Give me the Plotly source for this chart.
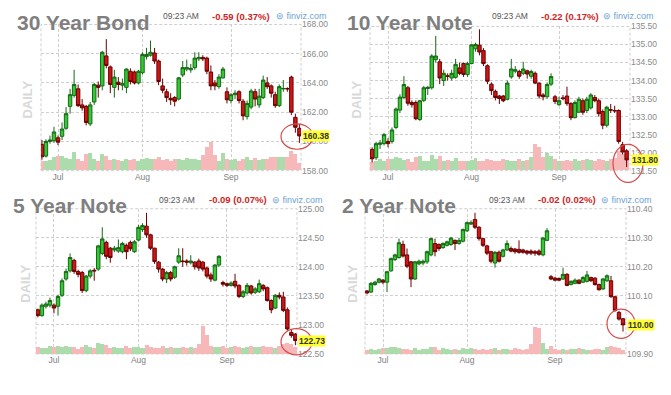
import plotly.graph_objects as go

W, H = 671, 395

# ---------------- data ----------------
jun_days = [25, 28, 29, 30]
jul_days = [1, 2, 6, 7, 8, 9, 12, 13, 14, 15, 16, 19, 20, 21, 22, 23, 26, 27, 28, 29, 30]
aug_days = [2, 3, 4, 5, 6, 9, 10, 11, 12, 13, 16, 17, 18, 19, 20, 23, 24, 25, 26, 27, 30, 31]
sep_days = [1, 2, 3, 7, 8, 9, 10, 13, 14, 15, 16, 17, 20, 21, 22, 23, 24, 27]
dates = ([f"2021-06-{d:02d}" for d in jun_days] + [f"2021-07-{d:02d}" for d in jul_days]
         + [f"2021-08-{d:02d}" for d in aug_days] + [f"2021-09-{d:02d}" for d in sep_days])

month_ticks = ["2021-07-01", "2021-08-02", "2021-09-01"]
month_labels = ["Jul", "Aug", "Sep"]

titles = ["30 Year Bond", "10 Year Note", "5 Year Note", "2 Year Note"]
changes = ["-0.59 (0.37%)", "-0.22 (0.17%)", "-0.09 (0.07%)", "-0.02 (0.02%)"]
quote_time = "09:23 AM"

# 30 Year Bond
bond30_open = [159.8, 159.0, 160.0, 160.05, 160.25, 160.35, 160.9, 162.4, 163.15, 163.6,
               162.5, 162.4, 161.2, 162.7, 163.85, 163.8, 165.85, 165.1, 163.7, 164.05,
               163.85, 163.7, 164.8, 164.75, 164.0, 164.7, 165.8, 165.9, 166.05, 165.5,
               163.8, 163.4, 162.95, 163.0, 162.9, 164.55, 164.95, 164.9, 165.05, 165.65,
               165.75, 165.7, 164.75, 164.0, 163.75, 164.35, 163.4, 162.8, 163.2, 163.4,
               162.75, 161.7, 162.35, 163.4, 162.5, 163.0, 164.0, 163.8, 163.2, 162.45,
               163.6, 163.62, 164.4, 161.65, 160.9]
bond30_high = [160.1, 160.15, 160.4, 161.0, 160.4, 161.3, 162.35, 163.6, 164.9, 163.9,
               162.9, 162.5, 162.7, 164.0, 164.1, 166.2, 167.0, 165.2, 164.9, 164.4,
               164.3, 165.0, 165.0, 164.85, 164.9, 166.1, 166.4, 166.9, 166.4, 165.6,
               164.3, 163.6, 163.3, 163.1, 164.4, 165.5, 165.6, 165.3, 166.1, 166.1,
               165.9, 165.8, 165.2, 164.2, 164.6, 165.1, 163.7, 163.3, 163.5, 163.5,
               162.9, 162.8, 163.6, 163.6, 163.6, 164.5, 164.4, 163.9, 163.4, 163.9,
               164.2, 163.7, 164.5, 161.9, 161.2]
bond30_low = [158.75, 158.9, 159.85, 159.9, 159.75, 160.1, 160.8, 161.9, 163.0, 162.35,
              162.1, 161.1, 161.05, 162.5, 163.0, 163.5, 165.0, 163.3, 163.0, 163.5,
              163.5, 163.3, 163.9, 163.9, 163.9, 164.6, 165.6, 165.8, 165.3, 163.85,
              163.3, 162.7, 162.5, 162.4, 162.8, 164.4, 164.8, 164.7, 164.9, 165.5,
              165.5, 164.6, 163.5, 163.5, 163.6, 164.3, 162.6, 162.6, 162.9, 162.6,
              161.45, 161.5, 162.2, 162.4, 162.3, 162.9, 163.6, 163.0, 162.3, 162.35,
              163.4, 163.4, 161.8, 160.6, 159.9]
bond30_close = [158.95, 160.0, 160.1, 160.65, 159.95, 160.85, 161.9, 163.2, 163.9, 162.45,
                162.3, 161.3, 162.5, 163.9, 163.7, 166.1, 165.2, 163.9, 164.4, 163.9,
                163.95, 164.95, 164.1, 164.0, 164.8, 165.95, 165.95, 166.1, 165.5, 164.1,
                163.5, 163.0, 162.85, 162.75, 164.35, 165.05, 165.05, 165.0, 165.7, 165.75,
                165.65, 164.8, 163.8, 163.8, 164.4, 164.95, 162.85, 163.2, 163.3, 162.8,
                161.75, 162.6, 163.45, 162.9, 163.1, 164.2, 163.75, 163.3, 162.45, 163.75,
                163.62, 163.6, 162.0, 160.97, 160.38]
bond30_volume = [180, 180, 200, 280, 300, 300, 260, 220, 380, 240,
                 180, 340, 360, 240, 180, 340, 300, 200, 220, 200,
                 180, 220, 200, 220, 180, 240, 260, 220, 240, 280,
                 200, 220, 180, 220, 240, 200, 260, 220, 240, 200,
                 320, 480, 580, 320, 180, 360, 240, 200, 220, 180,
                 240, 280, 200, 260, 200, 220, 240, 280, 280, 280,
                 280, 280, 400, 340, 140]
bond30_ticks = [158, 160, 162, 164, 166, 168]

# 10 Year Note
note10_open = [132.09, 131.86, 132.23, 132.25, 132.31, 132.31, 132.7, 133.18, 133.53, 133.8,
               133.39, 133.39, 132.92, 133.45, 133.78, 133.8, 134.58, 134.52, 134.0, 134.13,
               134.07, 134.09, 134.35, 134.47, 134.17, 134.47, 134.88, 134.98, 134.83, 134.41,
               133.9, 133.7, 133.57, 133.57, 133.48, 134.1, 134.26, 134.25, 134.2, 134.27,
               134.12, 134.2, 133.93, 133.6, 133.55, 133.9, 133.55, 133.33, 133.52, 133.57,
               133.36, 132.97, 133.12, 133.44, 133.17, 133.24, 133.53, 133.44, 133.14, 132.76,
               133.19, 133.17, 133.17, 132.22, 132.05]
note10_high = [132.15, 132.3, 132.35, 132.55, 132.4, 132.7, 133.25, 133.62, 134.12, 133.85,
               133.45, 133.45, 133.46, 133.85, 133.85, 134.73, 135.24, 134.6, 134.3, 134.2,
               134.3, 134.6, 134.5, 134.5, 134.52, 135.0, 135.05, 135.42, 134.9, 134.45,
               133.95, 133.75, 133.6, 133.6, 134.0, 134.6, 134.4, 134.3, 134.52, 134.3,
               134.3, 134.25, 133.95, 133.65, 133.95, 134.2, 133.6, 133.55, 133.6, 133.83,
               133.4, 133.45, 133.55, 133.5, 133.55, 133.65, 133.6, 133.5, 133.2, 133.3,
               133.35, 133.3, 133.2, 132.3, 132.1]
note10_low = [131.73, 131.8, 132.1, 132.2, 132.15, 132.25, 132.65, 133.1, 133.48, 133.3,
              133.25, 132.9, 132.88, 133.4, 133.6, 133.75, 134.5, 133.9, 133.85, 134.0,
              134.0, 134.05, 134.15, 134.1, 134.1, 134.45, 134.8, 134.7, 134.4, 133.9,
              133.6, 133.45, 133.35, 133.4, 133.45, 134.05, 134.2, 134.05, 134.15, 134.05,
              134.05, 133.9, 133.5, 133.45, 133.5, 133.85, 133.35, 133.3, 133.45, 133.3,
              132.9, 132.95, 133.1, 133.05, 133.1, 133.2, 133.4, 133.0, 132.65, 132.7,
              133.1, 133.1, 132.25, 131.95, 131.6]
note10_close = [131.83, 132.25, 132.27, 132.5, 132.25, 132.63, 133.21, 133.54, 133.89, 133.37,
                133.33, 132.94, 133.44, 133.8, 133.81, 134.68, 134.68, 134.07, 134.2, 134.12,
                134.2, 134.45, 134.2, 134.17, 134.47, 134.99, 135.0, 134.79, 134.47, 133.98,
                133.72, 133.53, 133.5, 133.44, 133.93, 134.32, 134.3, 134.12, 134.32, 134.18,
                134.25, 133.93, 133.57, 133.55, 133.89, 134.11, 133.42, 133.44, 133.5, 133.36,
                132.97, 133.39, 133.48, 133.12, 133.48, 133.6, 133.44, 133.08, 132.76, 133.26,
                133.18, 133.16, 132.31, 132.02, 131.8]
note10_volume = [800, 900, 1200, 1000, 1200, 1200, 1400, 1300, 1100, 1200,
                 800, 1400, 1500, 1000, 900, 1600, 1200, 1500, 900, 1100,
                 1000, 1300, 900, 1000, 900, 1100, 1300, 1000, 900, 1200,
                 1100, 900, 1000, 1200, 1100, 1000, 900, 1200, 1000, 1100,
                 1400, 2700, 2400, 1400, 1800, 1500, 1200, 900, 1000, 1100,
                 1000, 1200, 900, 1100, 1200, 1100, 1000, 1200, 1100, 1000,
                 1200, 1300, 2000, 1700, 1200]
note10_ticks = [131.5, 132.0, 132.5, 133.0, 133.5, 134.0, 134.5, 135.0, 135.5]

# 5 Year Note
note5_open = [123.26, 123.16, 123.32, 123.34, 123.34, 123.32, 123.51, 123.79, 123.93, 124.11,
              123.92, 123.9, 123.59, 123.84, 123.94, 123.96, 124.23, 124.42, 124.32, 124.29,
              124.27, 124.26, 124.37, 124.42, 124.26, 124.46, 124.64, 124.7, 124.55, 124.32,
              124.08, 123.96, 123.79, 123.9, 123.82, 124.08, 124.1, 124.1, 124.07, 124.08,
              124.1, 124.08, 123.98, 123.86, 123.77, 124.03, 123.73, 123.71, 123.68, 123.75,
              123.68, 123.49, 123.55, 123.67, 123.56, 123.57, 123.68, 123.64, 123.42, 123.29,
              123.51, 123.48, 123.26, 122.87, 122.84]
note5_high = [123.28, 123.37, 123.4, 123.47, 123.37, 123.52, 123.8, 123.97, 124.23, 124.14,
              123.95, 123.93, 123.86, 123.96, 123.98, 124.38, 124.68, 124.45, 124.34, 124.36,
              124.47, 124.43, 124.4, 124.45, 124.46, 124.72, 124.75, 124.93, 124.57, 124.33,
              124.1, 123.98, 123.93, 123.93, 124.02, 124.32, 124.32, 124.13, 124.2, 124.1,
              124.14, 124.1, 124.0, 123.9, 124.05, 124.2, 123.76, 123.73, 123.75, 123.88,
              123.7, 123.6, 123.72, 123.69, 123.65, 123.78, 123.7, 123.66, 123.44, 123.53,
              123.56, 123.57, 123.3, 122.92, 122.86]
note5_low = [123.13, 123.14, 123.28, 123.3, 123.2, 123.16, 123.48, 123.76, 123.9, 123.88,
             123.82, 123.55, 123.56, 123.8, 123.76, 123.93, 124.2, 124.13, 124.07, 124.25,
             124.24, 124.23, 124.13, 124.27, 124.24, 124.44, 124.6, 124.5, 124.29, 124.05,
             123.9, 123.75, 123.72, 123.75, 123.79, 124.05, 124.0, 124.02, 124.04, 123.95,
             123.93, 123.92, 123.8, 123.74, 123.75, 124.0, 123.66, 123.65, 123.66, 123.63,
             123.46, 123.46, 123.52, 123.52, 123.53, 123.55, 123.58, 123.4, 123.2, 123.27,
             123.44, 123.22, 122.9, 122.78, 122.65]
note5_close = [123.16, 123.34, 123.36, 123.42, 123.29, 123.49, 123.76, 123.92, 124.16, 123.92,
               123.87, 123.59, 123.84, 123.93, 123.93, 124.36, 124.48, 124.18, 124.16, 124.32,
               124.33, 124.4, 124.26, 124.31, 124.43, 124.68, 124.71, 124.55, 124.32, 124.09,
               123.96, 123.79, 123.9, 123.79, 124.0, 124.19, 124.09, 124.08, 124.1, 124.0,
               123.98, 123.96, 123.84, 123.79, 124.03, 124.18, 123.7, 123.68, 123.72, 123.67,
               123.49, 123.57, 123.68, 123.55, 123.62, 123.71, 123.62, 123.42, 123.26, 123.51,
               123.48, 123.25, 122.93, 122.82, 122.73]
note5_volume = [700, 600, 600, 800, 700, 800, 700, 800, 700, 700,
                500, 700, 900, 700, 600, 1200, 1100, 900, 600, 700,
                600, 600, 800, 600, 700, 700, 600, 900, 700, 600,
                600, 800, 600, 700, 600, 600, 700, 600, 700, 600,
                1000, 2900, 2000, 800, 700, 700, 800, 600, 700, 800,
                700, 600, 700, 800, 700, 700, 800, 700, 700, 600,
                800, 1000, 1200, 1000, 700]
note5_ticks = [122.5, 123.0, 123.5, 124.0, 124.5, 125.0]

# 2 Year Note
note2_open = [110.117, 110.113, 110.139, 110.147, 110.154, 110.147, 110.186, 110.225, 110.232, 110.277,
              110.241, 110.217, 110.158, 110.21, 110.213, 110.217, 110.241, 110.28, 110.277, 110.266,
              110.274, 110.277, 110.291, 110.28, 110.288, 110.324, 110.347, 110.363, 110.336, 110.297,
              110.272, 110.252, 110.213, 110.25, 110.236, 110.258, 110.263, 110.261, 110.26, 110.258,
              110.254, 110.254, 110.252, 110.254, 110.241, 110.291, 110.166, 110.161, 110.16, 110.158,
              110.174, 110.139, 110.143, 110.154, 110.147, 110.15, 110.163, 110.161, 110.139, 110.124,
              110.152, 110.152, 110.097, 110.043, 110.021]
note2_high = [110.12, 110.148, 110.152, 110.162, 110.158, 110.186, 110.232, 110.245, 110.297, 110.29,
              110.263, 110.22, 110.22, 110.225, 110.225, 110.256, 110.3, 110.297, 110.28, 110.284,
              110.29, 110.303, 110.294, 110.3, 110.332, 110.356, 110.36, 110.386, 110.34, 110.3,
              110.276, 110.255, 110.254, 110.256, 110.262, 110.291, 110.27, 110.265, 110.291, 110.262,
              110.258, 110.26, 110.258, 110.26, 110.303, 110.333, 110.172, 110.165, 110.163, 110.197,
              110.178, 110.153, 110.16, 110.157, 110.168, 110.186, 110.166, 110.164, 110.142, 110.161,
              110.174, 110.169, 110.1, 110.048, 110.024]
note2_low = [110.105, 110.11, 110.135, 110.143, 110.14, 110.113, 110.183, 110.22, 110.228, 110.232,
             110.195, 110.13, 110.155, 110.205, 110.205, 110.21, 110.236, 110.236, 110.255, 110.262,
             110.27, 110.272, 110.258, 110.276, 110.284, 110.32, 110.344, 110.33, 110.29, 110.268,
             110.24, 110.212, 110.197, 110.215, 110.232, 110.255, 110.25, 110.245, 110.245, 110.245,
             110.24, 110.24, 110.238, 110.238, 110.236, 110.288, 110.154, 110.15, 110.15, 110.155,
             110.133, 110.136, 110.14, 110.14, 110.144, 110.146, 110.148, 110.135, 110.118, 110.12,
             110.148, 110.093, 110.045, 110.015, 109.977]
note2_close = [110.11, 110.143, 110.147, 110.158, 110.147, 110.183, 110.228, 110.241, 110.283, 110.237,
               110.202, 110.158, 110.217, 110.219, 110.219, 110.252, 110.297, 110.252, 110.263, 110.28,
               110.286, 110.299, 110.28, 110.291, 110.328, 110.352, 110.352, 110.336, 110.297, 110.274,
               110.247, 110.219, 110.25, 110.219, 110.258, 110.28, 110.254, 110.252, 110.25, 110.25,
               110.247, 110.247, 110.247, 110.243, 110.299, 110.324, 110.158, 110.154, 110.154, 110.174,
               110.136, 110.15, 110.154, 110.143, 110.163, 110.172, 110.152, 110.139, 110.121, 110.158,
               110.169, 110.097, 110.05, 110.02, 110.0]
note2_volume = [240, 300, 240, 300, 360, 360, 420, 420, 360, 300,
                300, 240, 360, 240, 300, 300, 420, 420, 240, 360,
                300, 240, 300, 240, 360, 300, 360, 300, 240, 300,
                240, 300, 360, 240, 300, 300, 240, 360, 300, 240,
                300, 660, 1680, 1620, 720, 300, 480, 300, 240, 300,
                240, 300, 300, 360, 300, 240, 240, 300, 300, 240,
                420, 480, 420, 360, 240]
note2_ticks = [109.9, 110.0, 110.1, 110.2, 110.3, 110.4]

series = [
    (bond30_open, bond30_high, bond30_low, bond30_close, bond30_volume, bond30_ticks),
    (note10_open, note10_high, note10_low, note10_close, note10_volume, note10_ticks),
    (note5_open, note5_high, note5_low, note5_close, note5_volume, note5_ticks),
    (note2_open, note2_high, note2_low, note2_close, note2_volume, note2_ticks),
]

# ---------------- layout (pixel geometry) ----------------
panels = [
    dict(x0=41, x1=301, y0=20, y1=170, xr=(-0.23, 64.4), vmax=3000,
         tx=15, ty=18, timex=161, chgx=210, logox=274, hy=11.5, daily=(28, 97), circ=(281, 122, 313, 148)),
    dict(x0=370, x1=630, y0=22, y1=170, xr=(-0.53, 64.85), vmax=14800,
         tx=345, ty=18, timex=490, chgx=539, logox=601, hy=11.5, daily=(357, 97), circ=(613, 143, 643, 182)),
    dict(x0=36, x1=297, y0=209, y1=358, xr=(-0.47, 64.4), vmax=14900,
         tx=11, ty=206, timex=157, chgx=207, logox=270, hy=200, daily=(26, 286), circ=(281, 332, 312, 359)),
    dict(x0=365, x1=626, y0=209, y1=358, xr=(-0.5, 64.75), vmax=8940,
         tx=340, ty=206, timex=487, chgx=536, logox=599, hy=200, daily=(353, 286), circ=(607, 312, 635, 342)),
]

UP_FILL, UP_LINE = "#34c934", "#166816"
DN_FILL, DN_LINE = "#cf1515", "#6a0000"
VOL_UP, VOL_DN = "#acdcac", "#f6b8b8"
GRID = "#cfcfcf"
FONT = "Liberation Sans, Arial, sans-serif"

def px(x):
    return x / W

def py(y):
    return 1 - y / H

fig = go.Figure()
layout = dict(
    width=W, height=H, margin=dict(l=0, r=0, t=0, b=0),
    paper_bgcolor="white", plot_bgcolor="white", showlegend=False,
    boxgap=0.15, boxgroupgap=0, bargap=0, font=dict(family=FONT),
)
annotations = []
shapes = []

for k, (p, s) in enumerate(zip(panels, series), start=1):
    o, hi, lo, c, vol, ticks = s
    vk = k          # volume axis (base)
    pk = k + 4      # price axis (overlay)
    vcol = [VOL_UP if cc >= oo else VOL_DN for oo, cc in zip(o, c)]
    fig.add_trace(go.Bar(x=dates, y=vol, marker=dict(color=vcol, line=dict(width=0)),
                         xaxis=f"x{k}", yaxis=f"y{vk}", hoverinfo="skip"))
    fig.add_trace(go.Candlestick(
        x=dates, open=o, high=hi, low=lo, close=c, xaxis=f"x{k}", yaxis=f"y{pk}",
        increasing=dict(fillcolor=UP_FILL, line=dict(color=UP_LINE, width=1)),
        decreasing=dict(fillcolor=DN_FILL, line=dict(color=DN_LINE, width=1)),
        whiskerwidth=0, hoverinfo="skip"))

    xd = [px(p["x0"]), px(p["x1"])]
    yd = [py(p["y1"]), py(p["y0"])]
    layout[f"xaxis{k}"] = dict(
        domain=xd, anchor=f"y{vk}", type="category", range=list(p["xr"]),
        tickmode="array", tickvals=month_ticks, ticktext=month_labels,
        showgrid=True, gridcolor=GRID, griddash="3px,2px", gridwidth=1,
        ticks="", showline=False, zeroline=False,
        tickfont=dict(size=8.5, color="#808080", family=FONT),
        rangeslider=dict(visible=False), fixedrange=True)
    layout[f"yaxis{vk}"] = dict(
        domain=yd, anchor=f"x{k}", range=[0, p["vmax"]], visible=False,
        showgrid=False, zeroline=False, fixedrange=True)
    layout[f"yaxis{pk}"] = dict(
        overlaying=f"y{vk}", anchor=f"x{k}", side="right",
        range=[ticks[0], ticks[-1]], tickmode="array", tickvals=ticks,
        tickformat=".2f", showgrid=True, gridcolor=GRID, griddash="3px,2px", gridwidth=1,
        ticks="", showline=False, zeroline=False,
        tickfont=dict(size=8.5, color="#8a8a8a", family=FONT), fixedrange=True)

    # dashed frame
    shapes.append(dict(type="rect", xref="paper", yref="paper",
                       x0=xd[0], x1=xd[1], y0=yd[0], y1=yd[1],
                       line=dict(color=GRID, width=1, dash="3px,2px"), layer="below"))
    # highlight circle
    cx0, cy0, cx1, cy1 = p["circ"]
    shapes.append(dict(type="circle", xref="paper", yref="paper",
                       x0=px(cx0), x1=px(cx1), y0=py(cy1), y1=py(cy0),
                       line=dict(color="#d84a4a", width=1.2), layer="above"))

    # header texts
    annotations.append(dict(text=f"<b>{titles[k-1]}</b>", x=px(p["tx"]), y=py(p["ty"]),
                            xref="paper", yref="paper", xanchor="left", yanchor="middle",
                            showarrow=False, font=dict(size=21, color="#7f7f7f", family=FONT)))
    annotations.append(dict(text=quote_time, x=px(p["timex"]), y=py(p["hy"]),
                            xref="paper", yref="paper", xanchor="left", yanchor="middle",
                            showarrow=False, font=dict(size=8.5, color="#555555", family=FONT)))
    annotations.append(dict(text=f"<b>{changes[k-1]}</b>", x=px(p["chgx"]), y=py(p["hy"]),
                            xref="paper", yref="paper", xanchor="left", yanchor="middle",
                            showarrow=False, font=dict(size=9.5, color="#d02424", family=FONT)))
    annotations.append(dict(text="⊜ finviz.com", x=px(p["logox"]), y=py(p["hy"]),
                            xref="paper", yref="paper", xanchor="left", yanchor="middle",
                            showarrow=False, font=dict(size=9, color="#6c9fd6", family=FONT)))
    dx, dy = p["daily"]
    annotations.append(dict(text="<b>DAILY</b>", x=px(dx), y=py(dy), textangle=-90,
                            xref="paper", yref="paper", xanchor="center", yanchor="middle",
                            showarrow=False, font=dict(size=13, color="#d9d9d9", family=FONT)))
    # last price tag
    annotations.append(dict(text=f"<b>{c[-1]:.2f}</b>", x=px(p["x1"] + 1), y=c[-1],
                            xref="paper", yref=f"y{pk}", xanchor="left", yanchor="middle",
                            showarrow=False, bgcolor="#ffff33", borderpad=0,
                            font=dict(size=8.5, color="#333333", family=FONT)))

layout["annotations"] = annotations
layout["shapes"] = shapes
fig.update_layout(**layout)
fig.write_html("out.html", config={"displayModeBar": False},
               post_script="document.body.style.margin='0';document.body.style.overflow='hidden';")
